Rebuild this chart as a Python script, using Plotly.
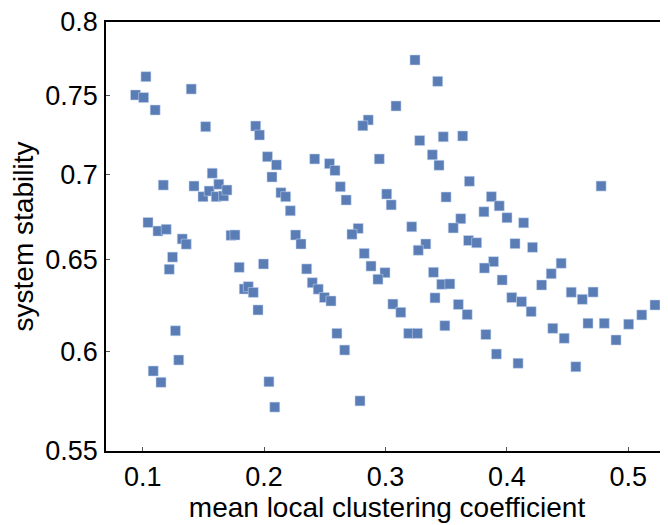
import plotly.graph_objects as go

# mean local clustering coefficient
clustering = [
    0.1027, 0.0941, 0.1008, 0.1103, 0.1400, 0.1519, 0.1931, 0.1962, 0.2417, 0.2028,
    0.2102, 0.2065, 0.2539, 0.2584, 0.2628, 0.1170, 0.1423, 0.1573, 0.1497, 0.1548,
    0.1627, 0.1606, 0.1667, 0.1694, 0.2139, 0.2178, 0.2216, 0.2260, 0.2304, 0.1044,
    0.1126, 0.1194, 0.1326, 0.1359, 0.1728, 0.1760, 0.1246, 0.1219, 0.1270, 0.1297,
    0.1087, 0.1151, 0.1795, 0.1995, 0.1837, 0.1870, 0.1911, 0.1950, 0.2040, 0.2088,
    0.2351, 0.2397, 0.2446, 0.2497, 0.2551, 0.2600, 0.2664, 0.2790, 0.2858, 0.2813,
    0.2949, 0.2676, 0.3047, 0.2775, 0.2724, 0.2825, 0.2881, 0.2996, 0.2938, 0.3061,
    0.3126, 0.3191, 0.3263, 0.3243, 0.3430, 0.3087, 0.3282, 0.3476, 0.3636, 0.3386,
    0.3441, 0.3691, 0.3010, 0.3499, 0.3872, 0.3937, 0.3811, 0.4001, 0.4138, 0.3216,
    0.3620, 0.3558, 0.3332, 0.3270, 0.3684, 0.3751, 0.4067, 0.4211, 0.3890, 0.3815,
    0.3961, 0.3395, 0.3463, 0.3530, 0.3408, 0.3600, 0.3673, 0.3489, 0.4040, 0.4121,
    0.4200, 0.3827, 0.3914, 0.4092, 0.4776, 0.4447, 0.4365, 0.4286, 0.4530, 0.4621,
    0.4710, 0.4378, 0.4472, 0.4668, 0.4802, 0.5003, 0.5111, 0.5220, 0.4899, 0.4568,
]

# system stability
stability = [
    0.7627, 0.7506, 0.7489, 0.7408, 0.7545, 0.7301, 0.7305, 0.7248, 0.7098, 0.7112,
    0.7061, 0.6987, 0.7069, 0.7027, 0.6928, 0.6938, 0.6932, 0.7010, 0.6868, 0.6902,
    0.6943, 0.6868, 0.6872, 0.6908, 0.6892, 0.6868, 0.6784, 0.6642, 0.6590, 0.6715,
    0.6665, 0.6675, 0.6619, 0.6589, 0.6640, 0.6642, 0.6515, 0.6446, 0.6109, 0.5955,
    0.5898, 0.5840, 0.6457, 0.6476, 0.6336, 0.6349, 0.6317, 0.6221, 0.5843, 0.5715,
    0.6448, 0.6371, 0.6335, 0.6289, 0.6270, 0.6095, 0.6007, 0.5746, 0.7344, 0.7307,
    0.7098, 0.6848, 0.6819, 0.6680, 0.6646, 0.6536, 0.6464, 0.6427, 0.6390, 0.6253,
    0.6208, 0.6095, 0.6095, 0.7739, 0.7596, 0.7434, 0.7213, 0.7237, 0.7242, 0.7124,
    0.7059, 0.6961, 0.6884, 0.6866, 0.6868, 0.6813, 0.6778, 0.6743, 0.6713, 0.6690,
    0.6737, 0.6683, 0.6590, 0.6554, 0.6610, 0.6597, 0.6592, 0.6571, 0.6489, 0.6453,
    0.6386, 0.6429, 0.6362, 0.6364, 0.6287, 0.6251, 0.6196, 0.6136, 0.6289, 0.6266,
    0.6212, 0.6089, 0.5986, 0.5938, 0.6932, 0.6480, 0.6421, 0.6358, 0.6318, 0.6279,
    0.6319, 0.6122, 0.6069, 0.6149, 0.6149, 0.6144, 0.6194, 0.6248, 0.6060, 0.5920,
]

x_ticks = [0.1, 0.2, 0.3, 0.4, 0.5]
x_tick_labels = ["0.1", "0.2", "0.3", "0.4", "0.5"]
y_ticks = [0.55, 0.6, 0.65, 0.7, 0.75, 0.8]
y_tick_labels = ["0.55", "0.6", "0.65", "0.7", "0.75", "0.8"]

FONT = "Liberation Sans, Arial, sans-serif"

fig = go.Figure()
fig.add_trace(go.Scatter(
    x=clustering, y=stability, mode="markers",
    marker=dict(symbol="square", size=10, color="#5a7db6",
                line=dict(width=0.6, color="rgba(200,215,240,0.9)")),
    showlegend=False,
))

# the page body adds an 8px offset; margins compensate so the plot lands in place
fig.update_layout(
    width=668, height=525,
    margin=dict(l=98, r=8, t=14, b=82, autoexpand=False),
    paper_bgcolor="white", plot_bgcolor="white",
    font=dict(family=FONT, size=28, color="black"),
)
fig.update_xaxes(
    range=[0.0698, 0.5327], tickvals=x_ticks, ticktext=x_tick_labels,
    showgrid=False, zeroline=False, automargin=False,
    showline=True, linecolor="black", linewidth=1.6, mirror=True,
    ticks="inside", ticklen=4, tickwidth=1, tickcolor="#555555",
    tickfont=dict(size=27), ticklabelstandoff=1, ticklabeloverflow="allow",
    title=dict(text="mean local clustering coefficient", font=dict(size=28), standoff=6),
)
fig.update_yaxes(
    type="log", range=[-0.259637, -0.096910],
    tickvals=y_ticks, ticktext=y_tick_labels,
    showgrid=False, zeroline=False, automargin=False,
    showline=True, linecolor="black", linewidth=1.6, mirror=False,
    ticks="inside", ticklen=4, tickwidth=1, tickcolor="#555555",
    tickfont=dict(size=27), ticklabelstandoff=1, ticklabeloverflow="allow",
    title=dict(text="system stability", font=dict(size=28), standoff=4),
)

fig.write_html("out.html")
